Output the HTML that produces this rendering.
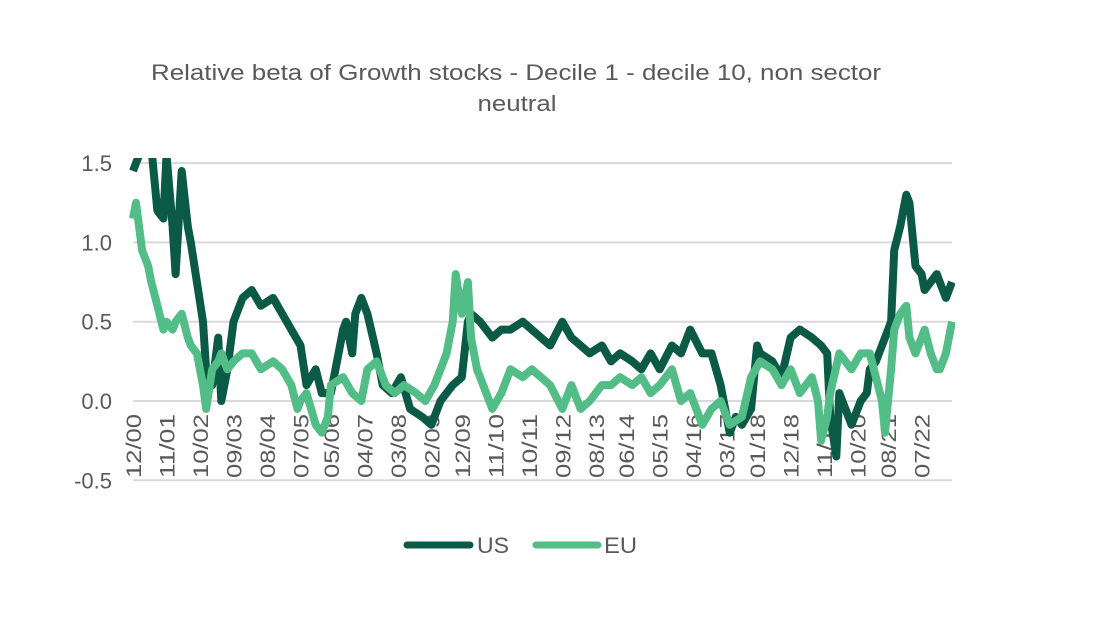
<!DOCTYPE html>
<html><head><meta charset="utf-8"><style>
body{margin:0;background:#fff;}
svg{display:block;font-family:"Liberation Sans",sans-serif;}
</style></head><body>
<svg id="chart" width="1118" height="644">
<text x="516" y="80" text-anchor="middle" font-size="22" fill="#595959" textLength="730" lengthAdjust="spacingAndGlyphs">Relative beta of  Growth stocks - Decile 1 - decile 10, non sector</text>
<text x="517" y="111" text-anchor="middle" font-size="22" fill="#595959" textLength="79" lengthAdjust="spacingAndGlyphs">neutral</text>
<g id="grid"></g><g id="ylabels"></g><g id="xlabels"></g>
<clipPath id="pc"><rect x="125" y="158" width="830" height="330"/></clipPath>
<g id="series" clip-path="url(#pc)"></g>
<g>
<line x1="407" y1="545" x2="470" y2="545" stroke="#0b5a45" stroke-width="7" stroke-linecap="round"/>
<text x="477" y="553" font-size="22" fill="#595959" textLength="32" lengthAdjust="spacingAndGlyphs">US</text>
<line x1="536" y1="545" x2="598" y2="545" stroke="#52bd86" stroke-width="7" stroke-linecap="round"/>
<text x="604" y="553" font-size="22" fill="#595959" textLength="33" lengthAdjust="spacingAndGlyphs">EU</text>
</g>
</svg>
<script>
const yTicks=[1.5,1.0,0.5,0.0,-0.5];
const yTickLabels=["1.5","1.0","0.5","0.0","-0.5"];
const xTickMonths=[0,11,22,33,44,55,65,76,87,98,108,119,130,141,152,162,173,184,195,205,216,227,238,248,259];
const xTickLabels=["12/00","11/01","10/02","09/03","08/04","07/05","05/06","04/07","03/08","02/09","12/09","11/10","10/11","09/12","08/13","06/14","05/15","04/16","03/17","01/18","12/18","11/19","10/20","08/21","07/22"];
const usMonths=[0,3,6,8,10,11,13,14,16,18,19,23,24,26,28,29,31,33,36,39,42,46,49,52,55,57,60,62,65,69,70,72,73,75,77,80,82,85,88,91,95,98,101,105,108,110,111,114,118,121,124,128,131,134,137,141,144,147,150,154,157,160,164,167,170,173,177,180,183,187,190,193,195,196,198,200,203,205,206,210,213,216,219,223,226,228,229,231,232,236,239,241,242,244,246,249,250,252,254,255,257,259,260,262,264,265,267,269];
const usValues=[1.45,1.6,1.6,1.2,1.15,1.55,1.1,0.8,1.45,1.1,1.0,0.5,0.2,0.1,0.4,0.0,0.2,0.5,0.65,0.7,0.6,0.65,0.55,0.45,0.35,0.1,0.2,0.05,0.05,0.45,0.5,0.3,0.55,0.65,0.55,0.3,0.1,0.05,0.15,-0.05,-0.1,-0.15,0.0,0.1,0.15,0.5,0.55,0.5,0.4,0.45,0.45,0.5,0.45,0.4,0.35,0.5,0.4,0.35,0.3,0.35,0.25,0.3,0.25,0.2,0.3,0.2,0.35,0.3,0.45,0.3,0.3,0.1,-0.1,-0.2,-0.1,-0.15,-0.05,0.35,0.3,0.25,0.15,0.4,0.45,0.4,0.35,0.3,-0.1,-0.35,0.05,-0.15,0.0,0.05,0.2,0.25,0.35,0.5,0.95,1.1,1.3,1.25,0.85,0.8,0.7,0.75,0.8,0.75,0.65,0.75];
const euMonths=[0,1,3,5,6,8,10,11,13,14,16,18,19,21,23,24,26,28,29,31,33,36,39,42,46,49,52,54,55,57,60,62,64,65,69,72,75,77,80,83,86,89,93,96,99,103,105,106,108,110,111,113,114,118,121,124,128,131,134,137,141,144,147,150,154,157,160,164,167,170,173,177,180,183,187,190,193,196,200,203,206,210,213,216,219,223,225,226,228,229,232,236,239,242,246,247,249,250,252,254,255,257,259,260,262,264,265,267,269];
const euValues=[1.15,1.25,0.95,0.85,0.75,0.6,0.45,0.5,0.45,0.5,0.55,0.4,0.35,0.3,0.1,-0.05,0.2,0.25,0.3,0.2,0.25,0.3,0.3,0.2,0.25,0.2,0.1,-0.05,0.0,0.05,-0.15,-0.2,-0.1,0.1,0.15,0.05,0.0,0.2,0.25,0.1,0.05,0.1,0.05,0.0,0.1,0.3,0.5,0.8,0.55,0.75,0.4,0.2,0.15,-0.05,0.05,0.2,0.15,0.2,0.15,0.1,-0.05,0.1,-0.05,0.0,0.1,0.1,0.15,0.1,0.15,0.05,0.1,0.2,0.0,0.05,-0.15,-0.05,0.0,-0.15,-0.1,0.15,0.25,0.2,0.1,0.2,0.05,0.15,0.0,-0.25,-0.1,0.05,0.3,0.2,0.3,0.3,0.0,-0.2,0.2,0.45,0.55,0.6,0.4,0.3,0.4,0.45,0.3,0.2,0.2,0.3,0.5];

const NS="http://www.w3.org/2000/svg";
const X0=133,XMAX=952,M0=0,M1=269;
function xs(m){return X0+(m-M0)/(M1-M0)*(XMAX-X0);}
function ys(v){return 401-v*158.6;}
function mk(tag,attrs,parent){const e=document.createElementNS(NS,tag);for(const k in attrs)e.setAttribute(k,attrs[k]);parent.appendChild(e);return e;}
const grid=document.getElementById('grid'),yl=document.getElementById('ylabels'),xl=document.getElementById('xlabels'),ser=document.getElementById('series');
yTicks.forEach((v,i)=>{
  const l=mk('line',{x1:133,x2:952,y1:ys(v),y2:ys(v),stroke:'#d9d9d9','stroke-width':2},grid);
  
  
  const t=mk('text',{x:112,y:ys(v)+8,'text-anchor':'end','font-size':22,fill:'#595959'},yl);
  t.textContent=yTickLabels[i];
  
  
});
xTickMonths.forEach((m,i)=>{
  const x=xs(m)+8;
  const t=mk('text',{x:x,y:478,'text-anchor':'start','font-size':21,fill:'#595959',textLength:64,lengthAdjust:'spacingAndGlyphs',transform:`rotate(-90 ${x} 478)`},xl);
  t.textContent=xTickLabels[i];
  
  
});
function draw(ms,vs,color,name){
  const d=ms.map((m,i)=>(i?'L':'M')+xs(m).toFixed(1)+','+ys(vs[i]).toFixed(1)).join('');
  const p=mk('path',{d:d,fill:'none',stroke:color,'stroke-width':8,'stroke-linejoin':'round'},ser);
  
  
}
draw(usMonths,usValues,'#0b5a45','us-line');
draw(euMonths,euValues,'#52bd86','eu-line');
</script>
</body></html>
